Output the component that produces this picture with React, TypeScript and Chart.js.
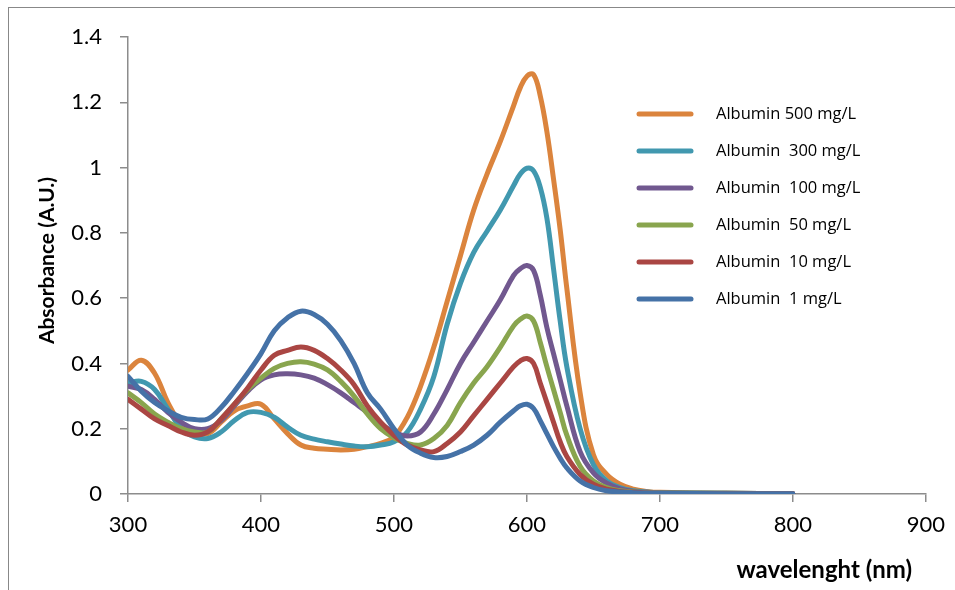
import { useEffect, useRef } from "react";
import { Chart, registerables } from "chart.js";

Chart.register(...registerables);

const wavelengths = [300, 310, 320, 330, 340, 350, 360, 370, 380, 390, 400, 410, 420, 430, 440, 450, 460, 470, 480, 490, 500, 510, 520, 530, 540, 550, 560, 570, 580, 590, 595, 600, 605, 610, 615, 620, 625, 630, 640, 650, 660, 670, 680, 690, 700, 750, 800];

const albumin500 = [0.38, 0.41, 0.37, 0.28, 0.215, 0.19, 0.185, 0.22, 0.255, 0.27, 0.275, 0.23, 0.185, 0.15, 0.14, 0.137, 0.135, 0.137, 0.145, 0.155, 0.175, 0.235, 0.33, 0.45, 0.59, 0.73, 0.87, 0.98, 1.08, 1.19, 1.245, 1.28, 1.285, 1.22, 1.11, 0.965, 0.81, 0.63, 0.31, 0.12, 0.06, 0.03, 0.015, 0.008, 0.005, 0.002, 0.001];
const albumin300 = [0.34, 0.345, 0.32, 0.26, 0.20, 0.175, 0.17, 0.19, 0.225, 0.25, 0.25, 0.235, 0.205, 0.18, 0.168, 0.16, 0.153, 0.147, 0.145, 0.15, 0.16, 0.19, 0.26, 0.36, 0.52, 0.645, 0.74, 0.805, 0.87, 0.945, 0.98, 0.998, 0.99, 0.94, 0.845, 0.69, 0.53, 0.39, 0.20, 0.09, 0.04, 0.02, 0.01, 0.006, 0.004, 0.002, 0.001];
const albumin100 = [0.33, 0.32, 0.29, 0.25, 0.22, 0.20, 0.20, 0.225, 0.27, 0.315, 0.35, 0.365, 0.368, 0.365, 0.355, 0.335, 0.31, 0.28, 0.25, 0.215, 0.19, 0.178, 0.19, 0.245, 0.32, 0.40, 0.465, 0.53, 0.595, 0.67, 0.69, 0.70, 0.685, 0.61, 0.51, 0.43, 0.35, 0.27, 0.13, 0.065, 0.033, 0.016, 0.008, 0.005, 0.003, 0.002, 0.001];
const albumin50 = [0.31, 0.28, 0.245, 0.22, 0.20, 0.19, 0.19, 0.23, 0.275, 0.32, 0.355, 0.385, 0.40, 0.405, 0.398, 0.38, 0.345, 0.30, 0.245, 0.20, 0.172, 0.155, 0.15, 0.17, 0.21, 0.28, 0.34, 0.39, 0.45, 0.515, 0.535, 0.545, 0.53, 0.465, 0.39, 0.32, 0.25, 0.18, 0.085, 0.04, 0.02, 0.01, 0.006, 0.004, 0.003, 0.002, 0.001];
const albumin10 = [0.29, 0.26, 0.23, 0.21, 0.19, 0.18, 0.19, 0.23, 0.275, 0.325, 0.38, 0.425, 0.44, 0.45, 0.44, 0.415, 0.38, 0.335, 0.27, 0.22, 0.18, 0.15, 0.135, 0.13, 0.155, 0.19, 0.24, 0.29, 0.34, 0.39, 0.408, 0.415, 0.40, 0.34, 0.28, 0.22, 0.16, 0.115, 0.06, 0.03, 0.015, 0.008, 0.005, 0.003, 0.002, 0.001, 0.001];
const albumin1 = [0.36, 0.315, 0.28, 0.255, 0.235, 0.228, 0.23, 0.265, 0.315, 0.37, 0.43, 0.50, 0.54, 0.56, 0.55, 0.52, 0.47, 0.40, 0.31, 0.26, 0.20, 0.15, 0.125, 0.112, 0.115, 0.13, 0.15, 0.18, 0.22, 0.255, 0.27, 0.275, 0.262, 0.225, 0.185, 0.145, 0.11, 0.08, 0.04, 0.02, 0.01, 0.006, 0.004, 0.003, 0.002, 0.001, 0.001];

const seriesLabels = ["Albumin 500 mg/L", "Albumin  300 mg/L", "Albumin  100 mg/L", "Albumin  50 mg/L", "Albumin  10 mg/L", "Albumin  1 mg/L"];
const seriesValues = [albumin500, albumin300, albumin100, albumin50, albumin10, albumin1];
const seriesColors = ["#DB843D", "#4198AF", "#71588F", "#89A54E", "#AA4643", "#4572A7"];

const yAxisTitle = "Absorbance (A.U.)";
const xAxisTitle = "wavelenght (nm)";

const legendPlugin = {
  id: "insideLegend",
  afterDraw(chart: any) {
    const ctx = chart.ctx;
    ctx.save();
    chart.data.datasets.forEach((ds: any, i: number) => {
      const y = 114 + i * 37;
      ctx.strokeStyle = ds.borderColor;
      ctx.lineWidth = 5;
      ctx.lineCap = "round";
      ctx.beginPath();
      ctx.moveTo(639, y);
      ctx.lineTo(691, y);
      ctx.stroke();
      ctx.fillStyle = "#000";
      ctx.font = "16.5px 'Open Sans'";
      ctx.textAlign = "left";
      ctx.textBaseline = "middle";
      ctx.fillText(ds.label, 716, y);
    });
    ctx.restore();
  },
};

const titlesPlugin = {
  id: "axisTitles",
  afterDraw(chart: any) {
    const ctx = chart.ctx;
    ctx.save();
    ctx.fillStyle = "#000";
    ctx.font = "bold 24px Lato";
    ctx.textAlign = "right";
    ctx.textBaseline = "alphabetic";
    ctx.fillText(xAxisTitle, 912, 578);
    ctx.translate(47.5, 260.5);
    ctx.rotate(-Math.PI / 2);
    ctx.font = "bold 21px Lato";
    ctx.textAlign = "center";
    ctx.textBaseline = "middle";
    ctx.fillText(yAxisTitle, 0, 0);
    ctx.restore();
  },
};

export default function App() {
  const ref = useRef<HTMLCanvasElement>(null);
  useEffect(() => {
    if (!ref.current) return;
    const chart = new Chart(ref.current, {
      type: "line",
      data: {
        datasets: seriesLabels.map((label, i) => ({
          label,
          data: wavelengths.map((x, j) => ({ x, y: seriesValues[i][j] })),
          borderColor: seriesColors[i],
          backgroundColor: seriesColors[i],
          borderWidth: 5,
          pointRadius: 0,
          fill: false,
          tension: 0.4,
          borderCapStyle: "round" as const,
          borderJoinStyle: "round" as const,
          order: seriesLabels.length - i,
        })),
      },
      options: {
        animation: false,
        responsive: false,
        maintainAspectRatio: false,
        layout: { padding: { left: 0, right: 28, top: 37, bottom: 0 } },
        plugins: {
          legend: { display: false },
          tooltip: { enabled: false },
        },
        scales: {
          x: {
            type: "linear",
            min: 300,
            max: 900,
            ticks: { stepSize: 100, color: "#000", font: { family: "Lato", size: 22 }, padding: 10 },
            grid: { drawOnChartArea: false, drawTicks: true, tickLength: 8, color: "#8c8c8c", lineWidth: 1.5 },
            border: { color: "#8c8c8c", width: 1.5 },
            afterFit(scale: any) {
              scale.height = 96;
            },
          },
          y: {
            type: "linear",
            min: 0,
            max: 1.4,
            ticks: {
              stepSize: 0.2,
              color: "#000",
              font: { family: "Lato", size: 22 },
              padding: 18,
              callback: (v: any) => String(Math.round(Number(v) * 10) / 10),
            },
            grid: { drawOnChartArea: false, drawTicks: true, tickLength: 8, color: "#8c8c8c", lineWidth: 1.5 },
            border: { color: "#8c8c8c", width: 1.5 },
            afterFit(scale: any) {
              scale.width = 128;
            },
          },
        },
      },
      plugins: [legendPlugin, titlesPlugin],
    });
    return () => chart.destroy();
  }, []);

  return (
    <div style={{ position: "absolute", left: 0, top: 0, width: 955, height: 590, background: "#fff", overflow: "hidden" }}>
      <canvas ref={ref} width={955} height={590} style={{ position: "absolute", left: 0, top: 0 }} />
      <div
        style={{
          position: "absolute",
          left: 8,
          top: 7,
          width: 947,
          height: 583,
          borderLeft: "1.5px solid #888",
          borderTop: "1.5px solid #888",
          boxSizing: "border-box",
          pointerEvents: "none",
        }}
      />
    </div>
  );
}
